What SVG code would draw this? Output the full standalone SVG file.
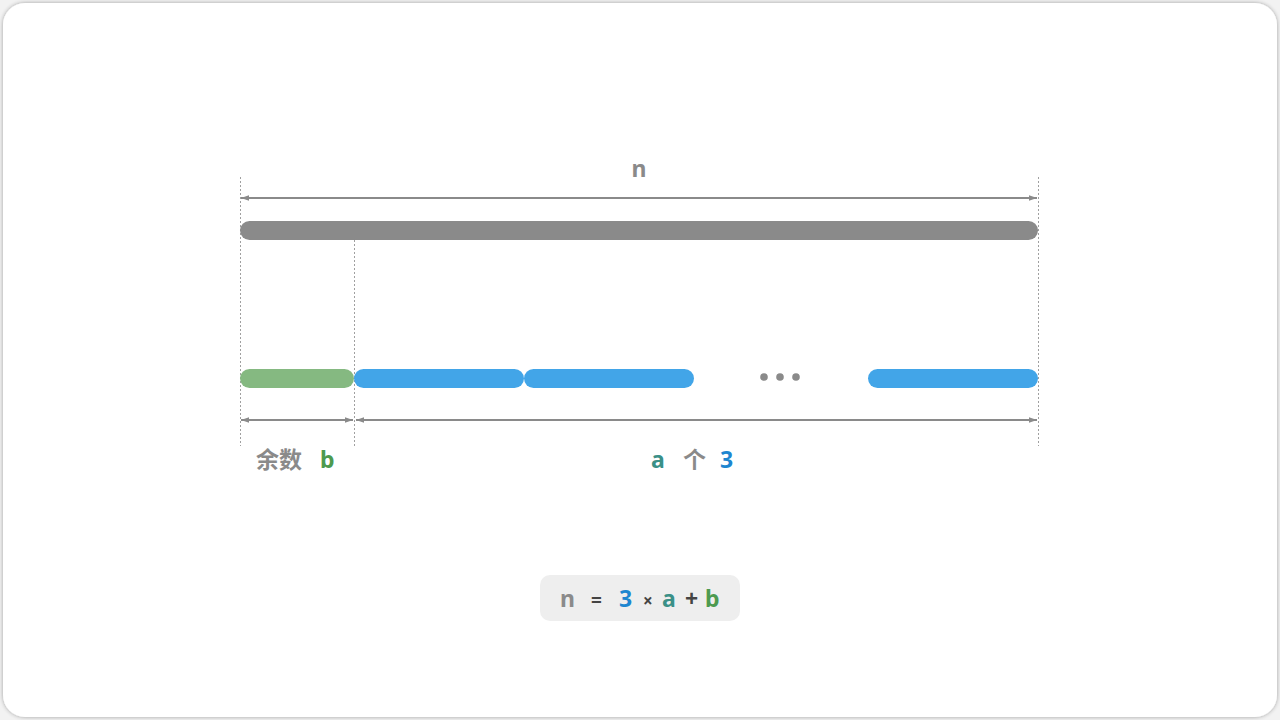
<svg xmlns="http://www.w3.org/2000/svg" width="1280" height="720" viewBox="0 0 1280 720">
  <defs>
    <filter id="shadow" x="-5%" y="-5%" width="110%" height="110%">
      <feGaussianBlur in="SourceAlpha" stdDeviation="2"/>
      <feOffset dx="0" dy="0"/>
      <feComponentTransfer><feFuncA type="linear" slope="0.35"/></feComponentTransfer>
      <feMerge><feMergeNode/><feMergeNode in="SourceGraphic"/></feMerge>
    </filter>
    <marker id="arr" viewBox="0 0 10 10" refX="10" refY="5" markerWidth="8" markerHeight="8" orient="auto-start-reverse" markerUnits="userSpaceOnUse">
      <path d="M0,1.5 L10,5 L0,8.5 Z" fill="#8a8a8a"/>
    </marker>
    <style>
      .t { font-family: "Noto Sans", "Noto Sans CJK SC", sans-serif; font-weight: bold; font-size: 23px; }
      .gray { fill: #8a8a8a; }
      .green { fill: #4d9a4f; }
      .blue { fill: #1e86d0; }
      .teal { fill: #3a9087; }
      .dark { fill: #444444; }
      .guide { stroke: #a0a0a0; stroke-width: 1; stroke-dasharray: 2 2; fill: none; }
      .dim { stroke: #8a8a8a; stroke-width: 2; fill: none; marker-start: url(#arr); marker-end: url(#arr); }
    </style>
  </defs>
  <rect x="0" y="0" width="1280" height="720" fill="#f2f2f2"/>
  <rect x="3" y="3" width="1274" height="714" rx="22" fill="#ffffff" filter="url(#shadow)"/>

  <g id="guides">
    <line class="guide" x1="240.5" y1="177" x2="240.5" y2="446"/>
    <line class="guide" x1="354.5" y1="240" x2="354.5" y2="446"/>
    <line class="guide" x1="1038.5" y1="177" x2="1038.5" y2="446"/>
  </g>

  <g id="connectors">
    <line class="dim" x1="241" y1="198" x2="1037" y2="198"/>
    <line class="dim" x1="241" y1="420" x2="353" y2="420"/>
    <line class="dim" x1="356" y1="420" x2="1037" y2="420"/>
  </g>

  <g id="bar-n">
    <rect x="240" y="221" width="798" height="19" rx="9.5" fill="#8a8a8a"/>
  </g>
  <g id="bar-b">
    <rect x="240" y="369" width="114" height="19" rx="9.5" fill="#85b981"/>
  </g>
  <g id="bar-3-1">
    <rect x="354" y="369" width="170" height="19" rx="9.5" fill="#42a5e8"/>
  </g>
  <g id="bar-3-2">
    <rect x="524" y="369" width="170" height="19" rx="9.5" fill="#42a5e8"/>
  </g>
  <g id="dots">
    <circle cx="764" cy="377" r="3.8" fill="#8a8a8a"/>
    <circle cx="780" cy="377" r="3.8" fill="#8a8a8a"/>
    <circle cx="796" cy="377" r="3.8" fill="#8a8a8a"/>
  </g>
  <g id="bar-3-n">
    <rect x="868" y="369" width="170" height="19" rx="9.5" fill="#42a5e8"/>
  </g>

  <g id="label-n">
    <text class="t gray" x="639" y="177" text-anchor="middle">n</text>
  </g>
  <g id="label-b">
    <text class="t" y="468"><tspan class="gray" x="256">余数</tspan><tspan class="green" x="320">b</tspan></text>
  </g>
  <g id="label-a3">
    <text class="t" y="468"><tspan class="teal" x="651">a</tspan><tspan class="gray" x="683">个</tspan><tspan class="blue" x="720">3</tspan></text>
  </g>

  <g id="formula">
    <rect x="540" y="575" width="200" height="46" rx="10" fill="#eeeeee"/>
    <text class="t" y="607"><tspan class="gray" x="560">n</tspan><tspan class="dark" x="591" font-size="19">=</tspan><tspan class="blue" x="619">3</tspan><tspan class="dark" x="643" font-size="17">×</tspan><tspan class="teal" x="662">a</tspan><tspan class="dark" x="685">+</tspan><tspan class="green" x="705">b</tspan></text>
  </g>
</svg>
